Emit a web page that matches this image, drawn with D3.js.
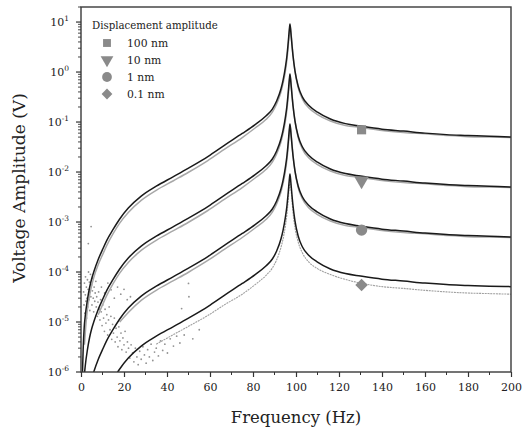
<!DOCTYPE html>
<html>
<head>
<meta charset="utf-8">
<script src="https://cdn.jsdelivr.net/npm/d3@7"></script>
<style>
  body { margin: 0; background: #fff; }
  svg { font-family: "DejaVu Serif", "Liberation Serif", serif; }
</style>
</head>
<body>
<svg id="chart" width="523" height="433"></svg>
<script>
// model curves (black), sampled off the figure
let fitFreq = [0.7, 1, 1.5, 2, 3, 4, 5, 6, 8, 10, 12, 15, 18, 22, 28, 35, 43, 50, 59, 67, 75, 81, 86, 89, 91, 93, 94, 95, 95.8, 96.4, 96.9, 97.2, 97.6, 98, 98.6, 99.5, 101, 103, 106, 110, 116, 123, 130, 140, 150, 160, 170, 180, 190, 200];
let fit100 = [1.0e-6, 2.8e-6, 7.9e-6, 1.35e-5, 2.8e-5, 4.9e-5, 7.4e-5, 1.02e-4, 1.78e-4, 2.8e-4, 4.3e-4, 7.2e-4, 1.15e-3, 1.9e-3, 3.3e-3, 5.2e-3, 8.1e-3, 1.2e-2, 2.04e-2, 3.5e-2, 5.9e-2, 8.9e-2, 0.132, 0.182, 0.263, 0.457, 0.69, 1.2, 2.14, 3.98, 7.1, 9.1, 6.3, 3.98, 2.14, 1.07, 0.525, 0.316, 0.214, 0.158, 0.115, 0.093, 0.083, 0.072, 0.066, 0.060, 0.056, 0.054, 0.052, 0.050];
let fit10 = [1.0e-7, 2.8e-7, 7.9e-7, 1.35e-6, 2.8e-6, 4.9e-6, 7.4e-6, 1.02e-5, 1.78e-5, 2.8e-5, 4.3e-5, 7.2e-5, 1.15e-4, 1.9e-4, 3.3e-4, 5.2e-4, 8.1e-4, 1.2e-3, 2.04e-3, 3.5e-3, 5.9e-3, 8.9e-3, 1.32e-2, 1.82e-2, 2.63e-2, 4.57e-2, 6.9e-2, 0.12, 0.214, 0.398, 0.71, 0.91, 0.63, 0.398, 0.214, 0.107, 5.25e-2, 3.16e-2, 2.14e-2, 1.58e-2, 1.15e-2, 9.3e-3, 8.3e-3, 7.2e-3, 6.6e-3, 6.0e-3, 5.6e-3, 5.4e-3, 5.2e-3, 5.0e-3];
let fit1 = [1.0e-8, 2.8e-8, 7.9e-8, 1.35e-7, 2.8e-7, 4.9e-7, 7.4e-7, 1.02e-6, 1.78e-6, 2.8e-6, 4.3e-6, 7.2e-6, 1.15e-5, 1.9e-5, 3.3e-5, 5.2e-5, 8.1e-5, 1.2e-4, 2.04e-4, 3.5e-4, 5.9e-4, 8.9e-4, 1.32e-3, 1.82e-3, 2.63e-3, 4.57e-3, 6.9e-3, 1.2e-2, 2.14e-2, 3.98e-2, 7.1e-2, 9.1e-2, 6.3e-2, 3.98e-2, 2.14e-2, 1.07e-2, 5.25e-3, 3.16e-3, 2.14e-3, 1.58e-3, 1.15e-3, 9.3e-4, 8.3e-4, 7.2e-4, 6.6e-4, 6.0e-4, 5.6e-4, 5.4e-4, 5.2e-4, 5.0e-4];
let fit01 = [1.0e-9, 2.8e-9, 7.9e-9, 1.35e-8, 2.8e-8, 4.9e-8, 7.4e-8, 1.02e-7, 1.78e-7, 2.8e-7, 4.3e-7, 7.2e-7, 1.15e-6, 1.9e-6, 3.3e-6, 5.2e-6, 8.1e-6, 1.2e-5, 2.04e-5, 3.5e-5, 5.9e-5, 8.9e-5, 1.32e-4, 1.82e-4, 2.63e-4, 4.57e-4, 6.9e-4, 1.2e-3, 2.14e-3, 3.98e-3, 7.1e-3, 9.1e-3, 6.3e-3, 3.98e-3, 2.14e-3, 1.07e-3, 5.25e-4, 3.16e-4, 2.14e-4, 1.58e-4, 1.15e-4, 9.3e-5, 8.3e-5, 7.2e-5, 6.6e-5, 6.0e-5, 5.6e-5, 5.4e-5, 5.2e-5, 5.1e-5];

// measured data (grey), null where the trace is lost in the noise
let dataFreq = [1.6, 2.2, 3, 4, 5, 6, 8, 10, 12, 15, 18, 22, 28, 35, 43, 50, 59, 67, 75, 81, 86, 89, 91, 93, 94, 95, 95.8, 96.4, 96.9, 97.2, 97.6, 98, 98.6, 99.5, 101, 103, 106, 110, 116, 123, 130, 140, 150, 160, 170, 180, 190, 200];
let data100 = [3.5e-6, 8.0e-6, 1.8e-5, 3.4e-5, 5.4e-5, 7.9e-5, 1.4e-4, 2.2e-4, 3.4e-4, 5.9e-4, 9.5e-4, 1.55e-3, 2.7e-3, 4.3e-3, 6.7e-3, 9.9e-3, 1.7e-2, 2.9e-2, 4.9e-2, 7.6e-2, 0.112, 0.158, 0.229, 0.398, 0.60, 1.0, 1.78, 3.3, 6.3, 8.5, 6.6, 4.3, 2.19, 1.05, 0.49, 0.288, 0.19, 0.141, 0.105, 0.085, 0.078, 0.068, 0.062, 0.058, 0.054, 0.051, 0.050, 0.049];
let data10 = [null, null, null, null, null, null, 1.4e-5, 2.2e-5, 3.4e-5, 5.9e-5, 9.5e-5, 1.55e-4, 2.7e-4, 4.3e-4, 6.7e-4, 9.9e-4, 1.7e-3, 2.9e-3, 4.9e-3, 7.6e-3, 1.12e-2, 1.58e-2, 2.29e-2, 3.98e-2, 6.0e-2, 0.10, 0.178, 0.33, 0.63, 0.85, 0.66, 0.43, 0.219, 0.105, 4.9e-2, 2.88e-2, 1.9e-2, 1.41e-2, 1.05e-2, 8.5e-3, 7.8e-3, 6.8e-3, 6.2e-3, 5.8e-3, 5.4e-3, 5.1e-3, 5.0e-3, 4.9e-3];
let data1 = [null, null, null, null, null, null, null, null, null, null, 1.0e-5, 1.55e-5, 2.7e-5, 4.3e-5, 6.7e-5, 9.9e-5, 1.7e-4, 2.9e-4, 4.9e-4, 7.6e-4, 1.12e-3, 1.58e-3, 2.29e-3, 3.98e-3, 6.0e-3, 1.0e-2, 1.78e-2, 3.3e-2, 6.3e-2, 8.5e-2, 6.6e-2, 4.3e-2, 2.19e-2, 1.05e-2, 4.9e-3, 2.88e-3, 1.9e-3, 1.41e-3, 1.05e-3, 8.5e-4, 7.8e-4, 6.8e-4, 6.2e-4, 5.8e-4, 5.4e-4, 5.1e-4, 5.0e-4, 4.9e-4];
let data01 = [null, null, null, null, null, null, null, null, null, null, null, null, null, 3.6e-6, 5.6e-6, 8.2e-6, 1.35e-5, 2.25e-5, 3.6e-5, 5.6e-5, 8.5e-5, 1.2e-4, 1.75e-4, 3.1e-4, 4.6e-4, 8.0e-4, 1.45e-3, 2.8e-3, 5.0e-3, 6.3e-3, 5.0e-3, 3.2e-3, 1.58e-3, 7.9e-4, 4.0e-4, 2.4e-4, 1.58e-4, 1.17e-4, 8.9e-5, 7.1e-5, 6.0e-5, 5.1e-5, 4.7e-5, 4.3e-5, 4.0e-5, 3.8e-5, 3.7e-5, 3.6e-5];

// noise scatter at low frequency
let noiseFreq = [1.2, 1.4, 1.6, 1.8, 2.0, 2.1, 2.3, 2.5, 2.6, 2.8, 3.0, 3.1, 3.3, 3.4, 3.5, 3.7, 3.9, 4.1, 4.2, 4.4, 4.6, 4.7, 4.9, 5.1, 5.3, 5.5, 5.7, 5.9, 6.1, 6.4, 6.6, 6.9, 7.1, 7.3, 7.6, 7.9, 8.2, 8.5, 8.8, 9.1,
  9.4, 9.8, 10.1, 10.5, 10.9, 11.2, 11.6, 12.0, 12.4, 12.8, 13.1, 13.5, 13.9, 14.3, 14.7, 15.1, 15.5, 15.9, 16.3, 16.8, 17.2, 17.6, 18.1, 18.6, 19.0, 19.5, 20.0, 20.5, 21.0, 21.6, 22.1, 22.7,
  23.3, 24.0, 24.6, 25.3, 26.0, 26.6, 27.3, 28.0, 28.8, 29.5, 30.3, 31.0, 31.8, 32.6, 33.4, 34.2, 35.0, 36.0, 37.0, 38.0, 39.0, 40.2, 41.5, 43.0, 44.5, 46.0, 46.8, 48.0, 50.0, 50.2, 52.0, 55.0,
  9.5, 11.0, 12.5, 14.0, 15.5, 17.0, 18.5, 20.0, 21.5, 23.0];
let noiseVal = [4.0e-5, 2.2e-5, 6.0e-5, 1.5e-5, 3.5e-5, 8.0e-5, 2.6e-5, 5.0e-5, 1.2e-5, 3.0e-5, 7.0e-5, 2.0e-5, 4.5e-5, 3.7e-4, 1.0e-4, 2.8e-5, 6.3e-5, 1.7e-5, 4.0e-5, 9.0e-5, 3.2e-5, 8.1e-4, 5.5e-5, 2.2e-5, 4.2e-5, 7.5e-5, 3.0e-5, 1.6e-5, 5.0e-5, 2.6e-5, 3.8e-5, 6.5e-5, 2.0e-5, 3.2e-5, 1.3e-5, 2.5e-5, 4.0e-5, 1.8e-5, 1.1e-5, 2.8e-5,
  1.6e-5, 8.5e-6, 2.2e-5, 1.2e-5, 6.5e-6, 1.8e-5, 9.5e-6, 1.4e-5, 5.5e-6, 1.1e-5, 2.0e-5, 7.0e-6, 1.3e-5, 4.5e-6, 9.0e-6, 6.0e-6, 1.2e-5, 4.0e-6, 7.5e-6, 5.0e-6, 3.2e-6, 8.0e-6, 4.2e-6, 6.0e-6, 2.8e-6, 4.8e-6, 3.5e-6, 6.5e-6, 2.5e-6, 4.0e-6, 3.0e-6, 1.9e-6,
  3.5e-6, 2.4e-6, 1.6e-6, 3.0e-6, 2.0e-6, 1.4e-6, 2.6e-6, 1.8e-6, 3.2e-6, 2.2e-6, 1.5e-6, 2.8e-6, 2.0e-6, 3.6e-6, 1.7e-6, 2.5e-6, 3.0e-6, 2.1e-6, 4.2e-6, 2.7e-6, 3.6e-6, 2.4e-6, 4.6e-6, 3.3e-6, 5.2e-6, 3.8e-6, 1.86e-5, 5.5e-6, 5.9e-5, 3.2e-5, 4.6e-6, 7.0e-6,
  5.0e-5, 3.8e-5, 6.0e-5, 4.4e-5, 3.0e-5, 5.0e-5, 3.6e-5, 4.5e-5, 2.8e-5, 3.2e-5];

// markers at 130 Hz
let markerFreq = 130.5;
let markerVal = [0.070, 0.0067, 0.00069, 0.000055];
let legendLabels = ["100 nm", "10 nm", "1 nm", "0.1 nm"];

let xTicks = d3.range(0, 201, 20);
let yTicks = [-6, -5, -4, -3, -2, -1, 0, 1];

let svg = d3.select("#chart");
let mLeft = 81, mRight = 511, mTop = 7, mBottom = 372;

let x = d3.scaleLinear().domain([0, 200]).range([mLeft, mRight]);
let y = d3.scaleLog().domain([1e-6, 20]).range([mBottom, mTop]);

// square, down triangle, circle, diamond (square turned 45°)
let markerShapes = [d3.symbolSquare, d3.symbolTriangle, d3.symbolCircle, d3.symbolSquare];
let markerTurn = [0, 180, 0, 45];
let markerSize = [62, 70, 75, 58];

svg.append("clipPath").attr("id", "clip")
    .append("rect").attr("x", mLeft).attr("y", mTop)
    .attr("width", mRight - mLeft).attr("height", mBottom - mTop);

let plot = svg.append("g").attr("clip-path", "url(#clip)");

let line = d3.line()
    .defined(d => d[1] != null)
    .x(d => x(d[0]))
    .y(d => y(d[1]))
    .curve(d3.curveMonotoneX);

// noise dots
plot.append("g").selectAll("circle")
    .data(d3.zip(noiseFreq, noiseVal))
    .enter().append("circle")
    .attr("cx", d => x(d[0]))
    .attr("cy", d => y(d[1]))
    .attr("r", 0.9)
    .attr("fill", "#939393");

// grey data traces
[data100, data10, data1].forEach(function(vals) {
  plot.append("path")
      .datum(d3.zip(dataFreq, vals))
      .attr("fill", "none")
      .attr("stroke", "#a8a8a8")
      .attr("stroke-width", 1.5)
      .attr("d", line);
});
plot.append("path")
    .datum(d3.zip(dataFreq, data01))
    .attr("fill", "none")
    .attr("stroke", "#a0a0a0")
    .attr("stroke-width", 1.1)
    .attr("stroke-dasharray", "2,0.8")
    .attr("d", line);

// black model curves
[fit100, fit10, fit1, fit01].forEach(function(vals) {
  plot.append("path")
      .datum(d3.zip(fitFreq, vals))
      .attr("fill", "none")
      .attr("stroke", "#1a1a1a")
      .attr("stroke-width", 1.5)
      .attr("d", line);
});

// markers
svg.append("g").selectAll("path")
    .data(markerVal)
    .enter().append("path")
    .attr("transform", (d, i) => "translate(" + x(markerFreq) + "," + y(d) + ") rotate(" + markerTurn[i] + ")")
    .attr("d", (d, i) => d3.symbol().type(markerShapes[i]).size(markerSize[i] * 1.35)())
    .attr("fill", "#8a8a8a");

// frame
svg.append("rect")
    .attr("x", mLeft).attr("y", mTop)
    .attr("width", mRight - mLeft).attr("height", mBottom - mTop)
    .attr("fill", "none").attr("stroke", "#3a3a3a").attr("stroke-width", 1.4);

// x axis
let xAxis = svg.append("g")
    .attr("transform", "translate(0," + mBottom + ")")
    .call(d3.axisBottom(x).tickValues(xTicks).tickSize(5).tickSizeOuter(0).tickPadding(6));
xAxis.select(".domain").remove();
xAxis.selectAll("line").attr("stroke", "#333").attr("stroke-width", 1.2);
xAxis.selectAll("text").attr("font-family", "DejaVu Serif").attr("font-size", 11).attr("fill", "#222");

svg.append("g").selectAll("line")
    .data(d3.range(10, 200, 20))
    .enter().append("line")
    .attr("x1", d => x(d)).attr("x2", d => x(d))
    .attr("y1", mBottom).attr("y2", mBottom + 3)
    .attr("stroke", "#333").attr("stroke-width", 1);

// y axis ticks
let minor = [];
for (let e = -6; e < 2; e++) {
  for (let k = 2; k < 10; k++) {
    if (k * Math.pow(10, e) <= 20) minor.push(k * Math.pow(10, e));
  }
}
svg.append("g").selectAll("line")
    .data(minor)
    .enter().append("line")
    .attr("x1", mLeft - 3).attr("x2", mLeft)
    .attr("y1", d => y(d)).attr("y2", d => y(d))
    .attr("stroke", "#333").attr("stroke-width", 0.9);

svg.append("g").selectAll("line")
    .data(yTicks)
    .enter().append("line")
    .attr("x1", mLeft - 5).attr("x2", mLeft)
    .attr("y1", d => y(Math.pow(10, d))).attr("y2", d => y(Math.pow(10, d)))
    .attr("stroke", "#333").attr("stroke-width", 1.2);

let yLab = svg.append("g").selectAll("text")
    .data(yTicks)
    .enter().append("text")
    .attr("x", mLeft - 12)
    .attr("y", d => y(Math.pow(10, d)) + 4)
    .attr("text-anchor", "end")
    .attr("font-size", 11)
    .attr("fill", "#222");
yLab.append("tspan").text("10");
yLab.append("tspan").attr("dy", -5).attr("font-size", 7.5).text(d => d);

// axis titles
svg.append("text")
    .attr("x", (mLeft + mRight) / 2).attr("y", 423)
    .attr("text-anchor", "middle")
    .attr("font-size", 16.5).attr("fill", "#222")
    .text("Frequency (Hz)");

svg.append("text")
    .attr("transform", "translate(25,188) rotate(-90)")
    .attr("text-anchor", "middle")
    .attr("font-size", 17).attr("fill", "#222")
    .text("Voltage Amplitude (V)");

// legend
let legend = svg.append("g");
legend.append("text")
    .attr("x", 92).attr("y", 29)
    .attr("font-size", 10.2).attr("fill", "#222")
    .text("Displacement amplitude");
legendLabels.forEach(function(lab, i) {
  let ly = 43 + i * 17;
  legend.append("path")
      .attr("transform", "translate(107," + ly + ") rotate(" + markerTurn[i] + ")")
      .attr("d", d3.symbol().type(markerShapes[i]).size(markerSize[i])())
      .attr("fill", "#8a8a8a");
  legend.append("text")
      .attr("x", 127).attr("y", ly + 4)
      .attr("font-size", 10.8).attr("fill", "#222")
      .text(lab);
});
</script>
</body>
</html>
